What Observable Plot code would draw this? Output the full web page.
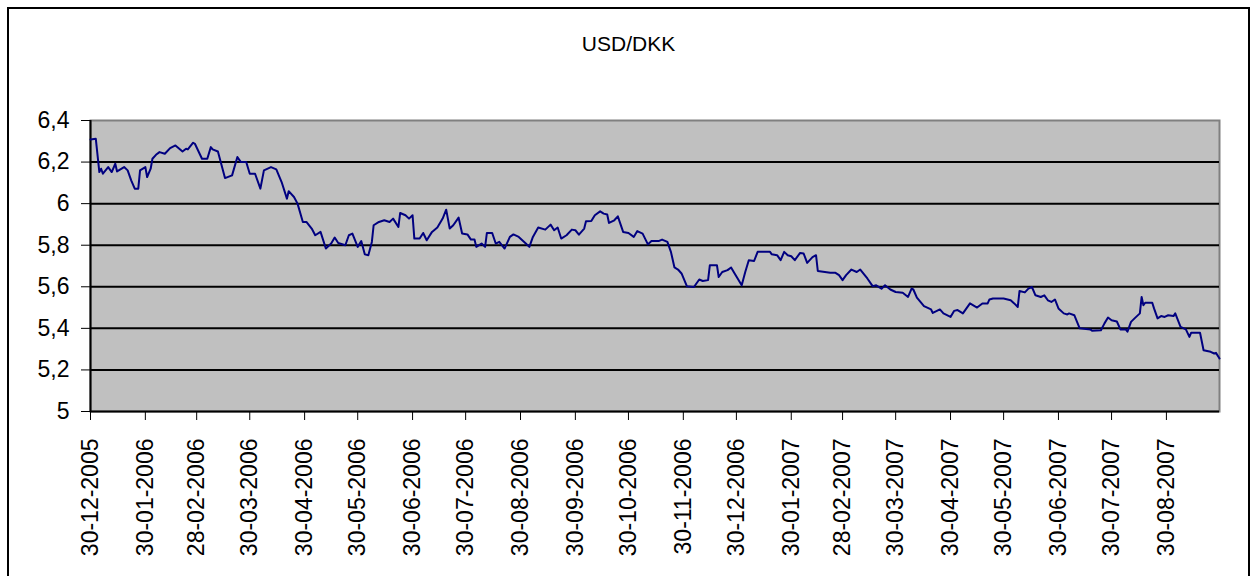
<!DOCTYPE html>
<html><head><meta charset="utf-8">
<script src="https://cdn.jsdelivr.net/npm/d3@7"></script>
<script src="https://cdn.jsdelivr.net/npm/@observablehq/plot@0.6"></script>
<style>
html,body{margin:0;padding:0;background:#fff;}
#wrap{position:relative;width:1257px;height:576px;overflow:hidden;font-family:"Liberation Sans",Arial,sans-serif;}
#frame{position:absolute;left:7px;top:7px;width:1243px;height:620px;border:2px solid #000;box-sizing:border-box;pointer-events:none;}
#title{position:absolute;left:0;width:1257px;top:32px;text-align:center;font-size:21px;color:#000;}
#chart{position:absolute;left:0;top:0;}
</style></head>
<body><div id="wrap"><div id="chart"></div><div id="title">USD/DKK</div><div id="frame"></div></div>
<script>
const titleText = "USD/DKK";
const xStart = "2005-12-30", xEnd = "2007-09-29";
const xTicks = ["2005-12-30","2006-01-30","2006-02-28","2006-03-30","2006-04-30","2006-05-30","2006-06-30","2006-07-30","2006-08-30","2006-09-30","2006-10-30","2006-11-30","2006-12-30","2007-01-30","2007-02-28","2007-03-30","2007-04-30","2007-05-30","2007-06-30","2007-07-30","2007-08-30"];
const xTickLabels = ["30-12-2005","30-01-2006","28-02-2006","30-03-2006","30-04-2006","30-05-2006","30-06-2006","30-07-2006","30-08-2006","30-09-2006","30-10-2006","30-11-2006","30-12-2006","30-01-2007","28-02-2007","30-03-2007","30-04-2007","30-05-2007","30-06-2007","30-07-2007","30-08-2007"];
const yTicks = [5, 5.2, 5.4, 5.6, 5.8, 6, 6.2, 6.4];
const yTickLabels = ["5","5,2","5,4","5,6","5,8","6","6,2","6,4"];
const gridValues = [5.2, 5.4, 5.6, 5.8, 6, 6.2];

const dates = [
"2005-12-30","2006-01-02","2006-01-04","2006-01-05","2006-01-06","2006-01-09","2006-01-11","2006-01-13","2006-01-14","2006-01-18",
"2006-01-20","2006-01-22","2006-01-24","2006-01-26","2006-01-27","2006-01-30","2006-01-31","2006-02-02","2006-02-03","2006-02-05",
"2006-02-07","2006-02-10","2006-02-13","2006-02-16","2006-02-20","2006-02-22","2006-02-23","2006-02-26","2006-02-27","2006-03-03",
"2006-03-06","2006-03-08","2006-03-09","2006-03-12","2006-03-16","2006-03-20","2006-03-23","2006-03-25","2006-03-28","2006-03-30",
"2006-04-02","2006-04-05","2006-04-07","2006-04-11","2006-04-14","2006-04-17","2006-04-20","2006-04-21","2006-04-24","2006-04-26",
"2006-04-29","2006-05-01","2006-05-04","2006-05-06","2006-05-09","2006-05-12","2006-05-15","2006-05-17","2006-05-19","2006-05-23",
"2006-05-25","2006-05-27","2006-05-30","2006-06-01","2006-06-03","2006-06-05","2006-06-07","2006-06-08","2006-06-11","2006-06-14",
"2006-06-17","2006-06-19","2006-06-22","2006-06-23","2006-06-26","2006-06-28","2006-06-30","2006-07-01","2006-07-04","2006-07-06",
"2006-07-08","2006-07-11","2006-07-14","2006-07-17","2006-07-19","2006-07-21","2006-07-23","2006-07-26","2006-07-28","2006-07-31",
"2006-08-02","2006-08-04","2006-08-05","2006-08-08","2006-08-10","2006-08-11","2006-08-14","2006-08-16","2006-08-18","2006-08-21",
"2006-08-24","2006-08-26","2006-08-29","2006-08-31","2006-09-02","2006-09-04","2006-09-06","2006-09-09","2006-09-13","2006-09-16",
"2006-09-18","2006-09-20","2006-09-22","2006-09-25","2006-09-28","2006-09-30","2006-10-02","2006-10-05","2006-10-06","2006-10-09",
"2006-10-11","2006-10-14","2006-10-16","2006-10-18","2006-10-19","2006-10-22","2006-10-24","2006-10-27","2006-10-30","2006-11-02",
"2006-11-04","2006-11-07","2006-11-10","2006-11-12","2006-11-16","2006-11-18","2006-11-21","2006-11-23","2006-11-25","2006-11-27",
"2006-11-29","2006-12-02","2006-12-06","2006-12-09","2006-12-11","2006-12-14","2006-12-15","2006-12-19","2006-12-20","2006-12-22",
"2006-12-25","2006-12-27","2006-12-29","2007-01-02","2007-01-04","2007-01-06","2007-01-09","2007-01-11","2007-01-18","2007-01-19",
"2007-01-22","2007-01-24","2007-01-26","2007-01-28","2007-01-30","2007-02-01","2007-02-04","2007-02-06","2007-02-08","2007-02-11",
"2007-02-13","2007-02-14","2007-02-18","2007-02-21","2007-02-24","2007-02-26","2007-02-28","2007-03-02","2007-03-05","2007-03-08",
"2007-03-10","2007-03-14","2007-03-17","2007-03-19","2007-03-22","2007-03-24","2007-03-27","2007-03-30","2007-04-03","2007-04-06",
"2007-04-08","2007-04-09","2007-04-11","2007-04-15","2007-04-19","2007-04-20","2007-04-24","2007-04-26","2007-04-30","2007-05-02",
"2007-05-04","2007-05-07","2007-05-11","2007-05-15","2007-05-18","2007-05-21","2007-05-22","2007-05-24","2007-05-30","2007-06-03",
"2007-06-05","2007-06-07","2007-06-08","2007-06-11","2007-06-13","2007-06-15","2007-06-17","2007-06-20","2007-06-22","2007-06-24",
"2007-06-26","2007-06-28","2007-06-30","2007-07-03","2007-07-05","2007-07-06","2007-07-09","2007-07-12","2007-07-18","2007-07-19",
"2007-07-24","2007-07-26","2007-07-28","2007-07-30","2007-08-02","2007-08-04","2007-08-07","2007-08-08","2007-08-10","2007-08-12",
"2007-08-15","2007-08-16","2007-08-17","2007-08-18","2007-08-22","2007-08-23","2007-08-25","2007-08-27","2007-08-29","2007-08-31",
"2007-09-03","2007-09-04","2007-09-07","2007-09-10","2007-09-12","2007-09-13","2007-09-18","2007-09-20","2007-09-24","2007-09-26",
"2007-09-27","2007-09-29"
];
const values = [
6.309,6.312,6.152,6.168,6.144,6.176,6.152,6.192,6.155,6.176,
6.160,6.112,6.072,6.072,6.160,6.176,6.128,6.168,6.216,6.235,
6.248,6.240,6.267,6.280,6.251,6.264,6.261,6.293,6.288,6.216,
6.216,6.272,6.261,6.251,6.123,6.136,6.224,6.200,6.200,6.144,
6.144,6.072,6.160,6.176,6.165,6.104,6.024,6.060,6.032,6.000,
5.912,5.912,5.880,5.848,5.864,5.784,5.808,5.837,5.811,5.800,
5.848,5.856,5.792,5.820,5.756,5.752,5.816,5.896,5.912,5.920,
5.912,5.928,5.888,5.955,5.944,5.928,5.944,5.832,5.832,5.859,
5.824,5.864,5.885,5.928,5.971,5.880,5.896,5.933,5.856,5.852,
5.827,5.827,5.792,5.808,5.792,5.859,5.859,5.808,5.816,5.784,
5.840,5.852,5.840,5.824,5.808,5.792,5.840,5.885,5.875,5.899,
5.872,5.885,5.832,5.848,5.875,5.872,5.851,5.880,5.915,5.916,
5.944,5.963,5.952,5.948,5.907,5.920,5.939,5.864,5.859,5.840,
5.868,5.856,5.804,5.820,5.820,5.827,5.816,5.768,5.693,5.683,
5.664,5.603,5.599,5.635,5.628,5.632,5.704,5.704,5.647,5.671,
5.680,5.693,5.664,5.607,5.671,5.728,5.724,5.768,5.768,5.756,
5.752,5.728,5.768,5.752,5.747,5.728,5.763,5.760,5.715,5.743,
5.752,5.676,5.671,5.667,5.667,5.656,5.632,5.656,5.683,5.671,
5.683,5.640,5.603,5.607,5.591,5.607,5.587,5.575,5.571,5.551,
5.591,5.587,5.548,5.507,5.491,5.474,5.491,5.472,5.455,5.484,
5.488,5.472,5.520,5.500,5.520,5.520,5.539,5.544,5.544,5.535,
5.520,5.503,5.580,5.573,5.591,5.599,5.559,5.551,5.559,5.535,
5.527,5.539,5.496,5.472,5.467,5.472,5.463,5.400,5.395,5.388,
5.391,5.424,5.452,5.439,5.433,5.395,5.395,5.384,5.431,5.448,
5.472,5.551,5.511,5.523,5.523,5.496,5.448,5.459,5.455,5.463,
5.459,5.472,5.407,5.395,5.359,5.379,5.379,5.295,5.287,5.279,
5.282,5.255
];

document.getElementById("title").textContent = titleText;
const data = dates.map((d, i) => ({date: new Date(d), value: values[i]}));
const xLabelMap = new Map(xTicks.map((d, i) => [+new Date(d), xTickLabels[i]]));
const yLabelMap = new Map(yTicks.map((d, i) => [d.toFixed(1), yTickLabels[i]]));

const chart = Plot.plot({
  width: 1257, height: 576,
  marginLeft: 90, marginRight: 38, marginTop: 120, marginBottom: 165,
  style: {fontFamily: "'Liberation Sans', Arial, sans-serif", fontSize: "23px", color: "#000", background: "transparent", overflow: "visible"},
  x: {type: "utc", domain: [new Date(xStart), new Date(xEnd)]},
  y: {domain: [5, 6.4]},
  marks: [
    Plot.frame({fill: "#c0c0c0", stroke: "#808080", strokeWidth: 2}),
    Plot.ruleY(gridValues, {stroke: "#000", strokeWidth: 2}),
    Plot.axisY({ticks: yTicks, tickFormat: d => yLabelMap.get((+d).toFixed(1)), tickSize: 9, tickPadding: 12, label: null, fontSize: 23}),
    Plot.axisX({ticks: xTicks.map(d => new Date(d)), tickFormat: d => xLabelMap.get(+d), tickRotate: -90, tickSize: 9, tickPadding: 18, label: null, fontSize: 23}),
    Plot.ruleX([new Date(xStart)], {stroke: "#000", strokeWidth: 2}),
    Plot.ruleY([5], {stroke: "#000", strokeWidth: 2}),
    Plot.line(data, {x: "date", y: "value", stroke: "#000080", strokeWidth: 2})
  ]
});
document.getElementById("chart").appendChild(chart);
</script></body></html>
